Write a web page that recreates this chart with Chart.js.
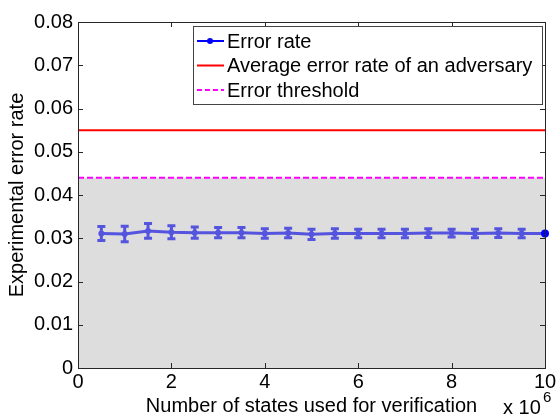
<!DOCTYPE html>
<html lang="en">
<head>
  <meta charset="UTF-8">
  <title>Experimental error rate</title>
  <style>
    body {
      margin: 0;
      padding: 0;
      background-color: #ffffff;
    }
    #wrap {
      width: 559px;
      height: 418px;
    }
  </style>
</head>
<body>

<div id="wrap">
  <canvas id="chart" width="559" height="418"></canvas>
</div>

<script src="https://cdn.jsdelivr.net/npm/chart.js"></script>
<script>
  // number of states (x 10^6)
  const statesUsed = [0.5, 1, 1.5, 2, 2.5, 3, 3.5, 4, 4.5, 5, 5.5, 6, 6.5, 7, 7.5, 8, 8.5, 9, 9.5, 10];
  const errorRate = [0.0311, 0.0310, 0.0317, 0.0314, 0.0313, 0.0313, 0.0313, 0.0311, 0.0312, 0.0309,
                     0.0311, 0.0311, 0.0311, 0.0311, 0.0312, 0.0312, 0.0311, 0.0312, 0.0311, 0.0311];
  const errorSpread = [0.0016, 0.0018, 0.0017, 0.0015, 0.0013, 0.0012, 0.0012, 0.0011, 0.0011, 0.0012,
                       0.0011, 0.0010, 0.0010, 0.0010, 0.0010, 0.0009, 0.0010, 0.0010, 0.0010, 0.0010];
  const adversaryRate = 0.055;
  const errorThreshold = 0.044;
  const xRange = [0, 10];
  const xTicks = [0, 2, 4, 6, 8, 10];
  const yTicks = [0, 0.01, 0.02, 0.03, 0.04, 0.05, 0.06, 0.07, 0.08];

  const legendItems = ['Error rate', 'Average error rate of an adversary', 'Error threshold'];

  const font = 'Liberation Sans, Arial, sans-serif';
  const lineBlue = 'rgb(84, 84, 222)';

  const flat = v => xRange.map(x => ({ x: x, y: v }));

  // error bars, inward ticks, box, legend and exponent label
  const matlabLook = {
    id: 'matlabLook',
    afterDatasetsDraw(chart) {
      const { ctx, scales: { x, y } } = chart;
      ctx.save();
      ctx.strokeStyle = lineBlue;
      ctx.lineWidth = 3;
      statesUsed.forEach((s, i) => {
        if (i === statesUsed.length - 1) return;
        const px = x.getPixelForValue(s);
        const top = y.getPixelForValue(errorRate[i] + errorSpread[i]);
        const bot = y.getPixelForValue(errorRate[i] - errorSpread[i]);
        ctx.beginPath();
        ctx.moveTo(px, top); ctx.lineTo(px, bot);
        ctx.moveTo(px - 4, top); ctx.lineTo(px + 4, top);
        ctx.moveTo(px - 4, bot); ctx.lineTo(px + 4, bot);
        ctx.stroke();
      });
      ctx.restore();
    },
    afterDraw(chart) {
      const { ctx, chartArea: a, scales: { x, y } } = chart;
      ctx.save();
      ctx.strokeStyle = '#262626';
      ctx.lineWidth = 1;
      ctx.beginPath();
      yTicks.forEach(v => {
        const py = Math.round(y.getPixelForValue(v)) + 0.5;
        ctx.moveTo(a.left, py); ctx.lineTo(a.left + 5, py);
        ctx.moveTo(a.right, py); ctx.lineTo(a.right - 5, py);
      });
      xTicks.forEach(v => {
        const px = Math.round(x.getPixelForValue(v)) + 0.5;
        ctx.moveTo(px, a.bottom); ctx.lineTo(px, a.bottom - 5);
        ctx.moveTo(px, a.top); ctx.lineTo(px, a.top + 5);
      });
      ctx.stroke();
      ctx.strokeRect(Math.round(a.left) + 0.5, Math.round(a.top) + 0.5,
                     Math.round(a.right - a.left), Math.round(a.bottom - a.top));

      // legend
      const lx = 193, ly = 26, lw = 349, lh = 78;
      ctx.fillStyle = '#ffffff';
      ctx.fillRect(lx, ly, lw, lh);
      ctx.strokeStyle = '#444444';
      ctx.strokeRect(lx + 0.5, ly + 0.5, lw, lh);
      ctx.font = '20px ' + font;
      ctx.textBaseline = 'middle';
      ctx.fillStyle = '#000000';
      const rows = [41, 65.5, 90];
      legendItems.forEach((label, i) => {
        const ry = rows[i];
        ctx.beginPath();
        ctx.lineWidth = 2;
        if (i === 0) ctx.strokeStyle = '#0000ff';
        if (i === 1) ctx.strokeStyle = '#ff0000';
        if (i === 2) { ctx.strokeStyle = '#ff00ff'; ctx.setLineDash([5, 3]); }
        ctx.moveTo(lx + 4, ry); ctx.lineTo(lx + 31, ry);
        ctx.stroke();
        ctx.setLineDash([]);
        if (i === 0) {
          ctx.fillStyle = '#0000ff';
          ctx.beginPath();
          ctx.arc(lx + 17, ry, 3, 0, Math.PI * 2);
          ctx.fill();
        }
        ctx.fillStyle = '#000000';
        ctx.fillText(label, lx + 34, ry + 1);
      });

      // exponent
      ctx.font = '20px ' + font;
      ctx.textBaseline = 'alphabetic';
      ctx.fillText('x 10', 503, 414);
      ctx.font = '15px ' + font;
      ctx.fillText('6', 543, 402);
      ctx.restore();
    }
  };

  const ctx = document.getElementById('chart').getContext('2d');
  const chart = new Chart(ctx, {
    type: 'line',
    data: {
      datasets: [
        {
          label: 'shade',
          order: 3,
          data: flat(errorThreshold),
          borderWidth: 0,
          pointRadius: 0,
          fill: 'origin',
          backgroundColor: 'rgb(221, 221, 221)'
        },
        {
          label: 'Error threshold',
          order: 2,
          data: flat(errorThreshold),
          borderColor: '#ff00ff',
          borderWidth: 2,
          borderDash: [6, 3],
          pointRadius: 0,
          fill: false
        },
        {
          label: 'Average error rate of an adversary',
          order: 1,
          data: flat(adversaryRate),
          borderColor: '#ff0000',
          borderWidth: 2,
          pointRadius: 0,
          fill: false
        },
        {
          label: 'Error rate',
          order: 0,
          data: statesUsed.map((s, i) => ({ x: s, y: errorRate[i] })),
          borderColor: lineBlue,
          borderWidth: 3,
          pointRadius: statesUsed.map((s, i) => i === statesUsed.length - 1 ? 4 : 3),
          pointBackgroundColor: statesUsed.map((s, i) => i === statesUsed.length - 1 ? '#0000ff' : lineBlue),
          pointBorderWidth: 0,
          fill: false
        }
      ]
    },
    options: {
      responsive: false,
      animation: false,
      devicePixelRatio: 1,
      clip: false,
      layout: { padding: { top: 22, right: 14, left: 0, bottom: 0 } },
      plugins: {
        legend: { display: false },
        tooltip: { enabled: false }
      },
      scales: {
        x: {
          type: 'linear',
          min: xRange[0],
          max: xRange[1],
          afterBuildTicks: s => { s.ticks = xTicks.map(v => ({ value: v })); },
          afterFit: s => { s.height = 50; },
          grid: { display: false, drawTicks: false },
          border: { display: false },
          ticks: {
            color: '#000000',
            font: { family: font, size: 20 },
            padding: 2,
            maxRotation: 0
          },
          title: {
            display: true,
            text: 'Number of states used for verification',
            color: '#000000',
            font: { family: font, size: 20 },
            padding: { top: 0, bottom: 0 }
          }
        },
        y: {
          min: 0,
          max: 0.08,
          afterBuildTicks: s => { s.ticks = yTicks.map(v => ({ value: v })); },
          afterFit: s => { s.width = 78; },
          grid: { display: false, drawTicks: false },
          border: { display: false },
          ticks: {
            color: '#000000',
            font: { family: font, size: 20 },
            padding: 5,
            callback: v => v === 0 ? '0' : v.toFixed(2)
          },
          title: {
            display: true,
            text: 'Experimental error rate',
            color: '#000000',
            font: { family: font, size: 20 },
            padding: { top: 5, bottom: 0 }
          }
        }
      }
    },
    plugins: [matlabLook]
  });
</script>
</body>
</html>
